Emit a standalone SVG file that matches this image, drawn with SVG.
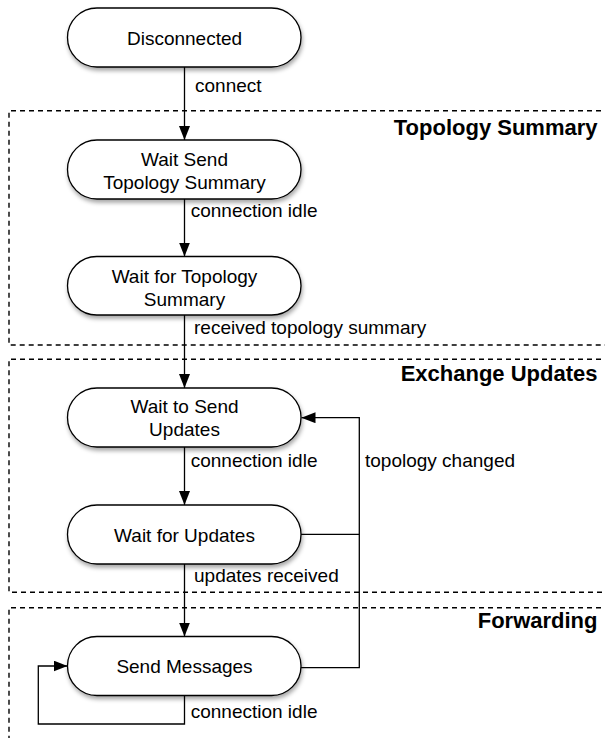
<svg xmlns="http://www.w3.org/2000/svg" width="605" height="738" viewBox="0 0 605 738">
<style>
.node rect{fill:#fff;stroke:#000;stroke-width:1.3;filter:url(#sh)}
.nt{font-family:"Liberation Sans",Arial,sans-serif;font-size:19px;fill:#000;text-anchor:middle}
.lb{font-family:"Liberation Sans",Arial,sans-serif;font-size:19px;fill:#000}
.grp{font-family:"Liberation Sans",Arial,sans-serif;font-size:22px;font-weight:bold;fill:#000;text-anchor:end}
.box{fill:none;stroke:#000;stroke-width:1.4;stroke-dasharray:5 4}
.edge{fill:none;stroke:#000;stroke-width:1.3}
</style>
<defs>
<filter id="sh" x="-10%" y="-20%" width="125%" height="150%">
<feDropShadow dx="1" dy="3" stdDeviation="2" flood-color="#000" flood-opacity="0.35"/>
</filter>
<marker id="ah" viewBox="0 0 14 11" refX="14" refY="5.5" markerWidth="14" markerHeight="11" markerUnits="userSpaceOnUse" orient="auto">
<path d="M0,0 L14,5.5 L0,11 Z" fill="#000"/>
</marker>
</defs>

<g id="groups">
<path class="box" d="M610,110.7 H9 V345 H610"/>
<path class="box" d="M610,359.3 H9 V592.3 H610"/>
<path class="box" d="M610,607.7 H9 V742"/>
<text class="grp" x="597.5" y="134.5">Topology Summary</text>
<text class="grp" x="597.5" y="381">Exchange Updates</text>
<text class="grp" x="597.5" y="628.3">Forwarding</text>
</g>

<g id="connectors">
<path class="edge" d="M184.5,67 V140" marker-end="url(#ah)"/>
<path class="edge" d="M184.5,199 V256.5" marker-end="url(#ah)"/>
<path class="edge" d="M184.5,315 V388" marker-end="url(#ah)"/>
<path class="edge" d="M184.5,447 V505" marker-end="url(#ah)"/>
<path class="edge" d="M184.5,564 V636.5" marker-end="url(#ah)"/>
<path class="edge" d="M301,534.3 H359.3"/>
<path class="edge" d="M301,667.7 H359.3 V417.7 H301.5" marker-end="url(#ah)"/>
<path class="edge" d="M184.5,695.5 V724 H38.3 V666 H67.5" marker-end="url(#ah)"/>
<text class="lb" x="195" y="91.7">connect</text>
<text class="lb" x="190.7" y="217.3">connection idle</text>
<text class="lb" x="194" y="334">received topology summary</text>
<text class="lb" x="190.7" y="466.7">connection idle</text>
<text class="lb" x="365" y="466.7">topology changed</text>
<text class="lb" x="194" y="582.3">updates received</text>
<text class="lb" x="190.7" y="718.3">connection idle</text>
</g>

<g id="disconnected" class="node">
<rect x="67.5" y="8" width="233.5" height="59" rx="29.5"/>
<text class="nt" x="184.5" y="45">Disconnected</text>
</g>
<g id="wait-send-topology-summary" class="node">
<rect x="67.5" y="140" width="233.5" height="59" rx="29.5"/>
<text class="nt" x="184.5" y="165.7">Wait Send</text>
<text class="nt" x="184.5" y="189.3">Topology Summary</text>
</g>
<g id="wait-for-topology-summary" class="node">
<rect x="67.5" y="256.5" width="233.5" height="58.5" rx="29.25"/>
<text class="nt" x="184.5" y="283.3">Wait for Topology</text>
<text class="nt" x="184.5" y="305.8">Summary</text>
</g>
<g id="wait-to-send-updates" class="node">
<rect x="67.5" y="388" width="233.5" height="59" rx="29.5"/>
<text class="nt" x="184.5" y="413">Wait to Send</text>
<text class="nt" x="184.5" y="436.3">Updates</text>
</g>
<g id="wait-for-updates" class="node">
<rect x="67.5" y="505" width="233.5" height="59" rx="29.5"/>
<text class="nt" x="184.5" y="541.5">Wait for Updates</text>
</g>
<g id="send-messages" class="node">
<rect x="67.5" y="636.5" width="233.5" height="59" rx="29.5"/>
<text class="nt" x="184.5" y="672.7">Send Messages</text>
</g>
</svg>
